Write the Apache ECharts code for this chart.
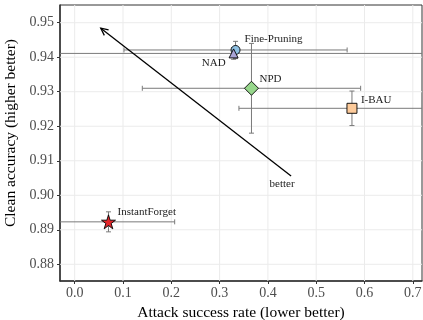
<!DOCTYPE html>
<html><head><meta charset="utf-8">
<script src="https://cdn.jsdelivr.net/npm/echarts@6/dist/echarts.min.js"></script>
<style>html,body{margin:0;padding:0;background:#fff}#c{width:423px;height:320px}</style>
</head><body><div id="c"></div>
<script>
// ---- data ----
const methods = ['Fine-Pruning', 'NAD', 'NPD', 'I-BAU', 'InstantForget'];
const asr     = [0.333, 0.329, 0.366, 0.574, 0.070];
const asrErr  = [0.231, 0.450, 0.226, 0.234, 0.137];
const acc     = [0.9421, 0.9411, 0.9310, 0.9252, 0.8923];
const accErr  = [0.0025, 0.0017, 0.0130, 0.0050, 0.0029];
const xTicks  = [0.0, 0.1, 0.2, 0.3, 0.4, 0.5, 0.6, 0.7];
const yTicks  = [0.88, 0.89, 0.90, 0.91, 0.92, 0.93, 0.94, 0.95];
const arrowFrom = [0.448, 0.9056];
const arrowTo   = [0.054, 0.9484];
const arrowText = 'better';

// ---- styles ----
const FONT = 'Liberation Serif';
const STAR = 'path://M50,0 L61.2,34.5 L97.6,34.5 L68.2,55.9 L79.4,90.5 L50,69.1 L20.6,90.5 L31.8,55.9 L2.4,34.5 L38.8,34.5 Z';
const markStyle = {
  'Fine-Pruning':  {symbol: 'circle',   size: 9,        color: '#8fc1e3', align: 'left',  off: [9, -11]},
  'NAD':           {symbol: 'triangle', size: [9, 9],   color: '#a9a4d6', align: 'right', off: [-8, 10]},
  'NPD':           {symbol: 'diamond',  size: [14, 14], color: '#97d78c', align: 'left',  off: [8, -9]},
  'I-BAU':         {symbol: 'rect',     size: [10, 10], color: '#fdcb9b', align: 'left',  off: [9, -8]},
  'InstantForget': {symbol: STAR,       size: [14, 14], color: '#e3262a', align: 'left',  off: [9, -9.5]}
};

const chart = echarts.init(document.getElementById('c'), null, {renderer: 'canvas'});

function renderGrid(params, api) {
  const cs = params.coordSys;
  const ch = [];
  const st = {stroke: '#ebebeb', lineWidth: 1};
  xTicks.forEach(v => {
    const p = api.coord([v, yTicks[0]]);
    ch.push({type: 'line', shape: {x1: p[0], y1: cs.y, x2: p[0], y2: cs.y + cs.height}, style: st});
  });
  yTicks.forEach(v => {
    const p = api.coord([xTicks[0], v]);
    ch.push({type: 'line', shape: {x1: cs.x, y1: p[1], x2: cs.x + cs.width, y2: p[1]}, style: st});
  });
  return {type: 'group', children: ch};
}

function renderErr(params, api) {
  const cs = params.coordSys;
  const L = cs.x, R = cs.x + cs.width, T = cs.y, B = cs.y + cs.height;
  const x = api.value(0), y = api.value(1), xe = api.value(2), ye = api.value(3);
  const c = api.coord([x, y]);
  const a = api.coord([x - xe, y]), b = api.coord([x + xe, y]);
  const u = api.coord([x, y + ye]), d = api.coord([x, y - ye]);
  const st = {stroke: '#7a7a7a', lineWidth: 1};
  const cx = v => Math.max(L, Math.min(R, v));
  const cy = v => Math.max(T, Math.min(B, v));
  const h = 2.5;
  const ch = [];
  ch.push({type: 'line', shape: {x1: cx(a[0]), y1: c[1], x2: cx(b[0]), y2: c[1]}, style: st});
  if (a[0] >= L) ch.push({type: 'line', shape: {x1: a[0], y1: c[1] - h, x2: a[0], y2: c[1] + h}, style: st});
  if (b[0] <= R) ch.push({type: 'line', shape: {x1: b[0], y1: c[1] - h, x2: b[0], y2: c[1] + h}, style: st});
  ch.push({type: 'line', shape: {x1: c[0], y1: cy(u[1]), x2: c[0], y2: cy(d[1])}, style: st});
  if (u[1] >= T) ch.push({type: 'line', shape: {x1: c[0] - h, y1: u[1], x2: c[0] + h, y2: u[1]}, style: st});
  if (d[1] <= B) ch.push({type: 'line', shape: {x1: c[0] - h, y1: d[1], x2: c[0] + h, y2: d[1]}, style: st});
  return {type: 'group', children: ch};
}

function renderArrow(params, api) {
  const p0 = api.coord([api.value(0), api.value(1)]);
  const p1 = api.coord([api.value(2), api.value(3)]);
  const ang = Math.atan2(p0[1] - p1[1], p0[0] - p1[0]);
  const len = 8, spread = 0.45;
  const st = {stroke: '#000', lineWidth: 1.3};
  const h1 = [p1[0] + len * Math.cos(ang + spread), p1[1] + len * Math.sin(ang + spread)];
  const h2 = [p1[0] + len * Math.cos(ang - spread), p1[1] + len * Math.sin(ang - spread)];
  return {type: 'group', children: [
    {type: 'line', shape: {x1: p0[0], y1: p0[1], x2: p1[0], y2: p1[1]}, style: st},
    {type: 'polyline', shape: {points: [h1, p1, h2]}, style: {stroke: '#000', lineWidth: 1.3, fill: null}},
    {type: 'text', x: p0[0] - 9, y: p0[1] + 8,
     style: {text: arrowText, font: '11px "' + FONT + '"', fill: '#222', align: 'center', verticalAlign: 'middle'}}
  ]};
}

const scatterSeries = methods.map((m, i) => {
  const s = markStyle[m];
  return {
    type: 'scatter', name: m, z: 5,
    symbol: s.symbol, symbolSize: s.size,
    itemStyle: {color: s.color, borderColor: '#000', borderWidth: 0.9, opacity: 1},
    label: {show: true, position: 'inside', formatter: m, align: s.align, verticalAlign: 'middle',
            offset: s.off, color: '#222', fontFamily: FONT, fontSize: 11},
    emphasis: {disabled: true},
    data: [[asr[i], acc[i]]]
  };
});

const option = {
  animation: false,
  backgroundColor: '#fff',
  grid: {left: 60, right: 1, top: 5, bottom: 39, containLabel: false, outerBoundsMode: 'none',
         show: true, borderColor: '#333', borderWidth: 1, backgroundColor: '#fff'},
  xAxis: {
    type: 'value', min: -0.0304, max: 0.719,
    name: 'Attack success rate (lower better)', nameLocation: 'middle', nameGap: 24,
    nameTextStyle: {fontFamily: FONT, fontSize: 15.5, color: '#000'},
    axisLine: {show: true, onZero: false, lineStyle: {color: '#333', width: 1.5}},
    axisTick: {show: true, customValues: xTicks, length: 3, lineStyle: {color: '#333'}},
    axisLabel: {customValues: xTicks, formatter: v => v.toFixed(1), fontFamily: FONT, fontSize: 14, color: '#4d4d4d', margin: 5},
    splitLine: {show: false}
  },
  yAxis: {
    type: 'value', min: 0.87516, max: 0.95513,
    name: 'Clean accuracy (higher better)', nameLocation: 'middle', nameGap: 34,
    nameTextStyle: {fontFamily: FONT, fontSize: 15.5, color: '#000', padding: [0, 0, 0, 20]},
    axisLine: {show: true, onZero: false, lineStyle: {color: '#333', width: 1.5}},
    axisTick: {show: true, customValues: yTicks, length: 3, lineStyle: {color: '#333'}},
    axisLabel: {customValues: yTicks, formatter: v => v.toFixed(2), fontFamily: FONT, fontSize: 14, color: '#4d4d4d', margin: 6},
    splitLine: {show: false}
  },
  series: [
    {type: 'custom', z: 1, silent: true, renderItem: renderGrid, data: [[0, 0]]},
    {type: 'custom', z: 3, silent: true, renderItem: renderErr,
     data: methods.map((m, i) => [asr[i], acc[i], asrErr[i], accErr[i]])},
    {type: 'custom', z: 4, silent: true, renderItem: renderArrow,
     data: [[arrowFrom[0], arrowFrom[1], arrowTo[0], arrowTo[1]]]},
    ...scatterSeries
  ]
};
chart.setOption(option);
</script></body></html>
